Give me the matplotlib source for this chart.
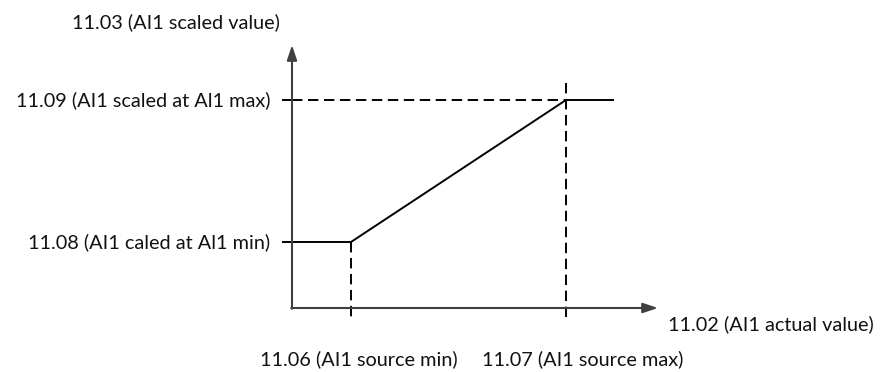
import matplotlib
matplotlib.use("Agg")
import matplotlib.pyplot as plt

# ---- data (abstract diagram units, origin at axis crossing) ----
curve_x = [0, 59, 274, 322]          # flat, ramp start, ramp end, flat end
curve_y = [66, 66, 208, 208]
x_break = [59, 274]                  # source min / source max
y_break = [66, 208]                  # scaled at min / scaled at max
x_labels = ["11.06 (AI1 source min)", "11.07 (AI1 source max)"]
y_labels = ["11.08 (AI1 caled at Al1 min)", "11.09 (AI1 scaled at Al1 max)"]
x_axis_title = "11.02 (AI1 actual value)"
y_axis_title = "11.03 (AI1 scaled value)"
x_axis_end = 366
y_axis_end = 263

plt.rcParams['font.family'] = ['Lato', 'DejaVu Sans']
plt.rcParams['lines.scale_dashes'] = False

fig = plt.figure(figsize=(8.85, 3.72), dpi=100)
ax = fig.add_axes([0, 0, 1, 1])
ax.set_xlim(-292, 593)
ax.set_ylim(-64, 308)
ax.axis('off')

axcol = '#404040'
fs = 14.3
# axes arrows
ax.annotate('', xy=(x_axis_end, 0), xytext=(-0.8, 0),
            arrowprops=dict(arrowstyle='-|>,head_length=0.9,head_width=0.3',
                            color=axcol, lw=1.5, shrinkA=0, shrinkB=0))
ax.annotate('', xy=(0, y_axis_end), xytext=(0, -0.8),
            arrowprops=dict(arrowstyle='-|>,head_length=0.9,head_width=0.3',
                            color=axcol, lw=1.5, shrinkA=0, shrinkB=0))

# curve
ax.plot(curve_x, curve_y, color='black', lw=1.4, solid_capstyle='butt')

# y ticks
for yv in y_break:
    ax.plot([-9, 0], [yv, yv], color='black', lw=1.4)

dash = (0, (7.5, 4))
# dashed guides
ax.plot([0, x_break[1]], [y_break[1], y_break[1]], color='black', lw=1.4, linestyle=dash)
ax.plot([x_break[0], x_break[0]], [y_break[0], -12], color='black', lw=1.4, linestyle=dash)
ax.plot([x_break[1], x_break[1]], [y_break[1] + 17, -12], color='black', lw=1.4, linestyle=dash)

# labels
for yv, lab in zip(y_break, y_labels):
    ax.text(-22, yv, lab, ha='right', va='center', fontsize=fs, color='#111111')
for xv, lab in zip(x_break, x_labels):
    ax.text(xv + 8 + (xv == x_break[1]) * 9, -51, lab, ha='center', va='center', fontsize=fs, color='#111111')
ax.text(376, -16, x_axis_title, ha='left', va='center', fontsize=fs, color='#111111')
ax.text(-116, 286, y_axis_title, ha='center', va='center', fontsize=fs, color='#111111')

fig.savefig('out.png', dpi=100)
